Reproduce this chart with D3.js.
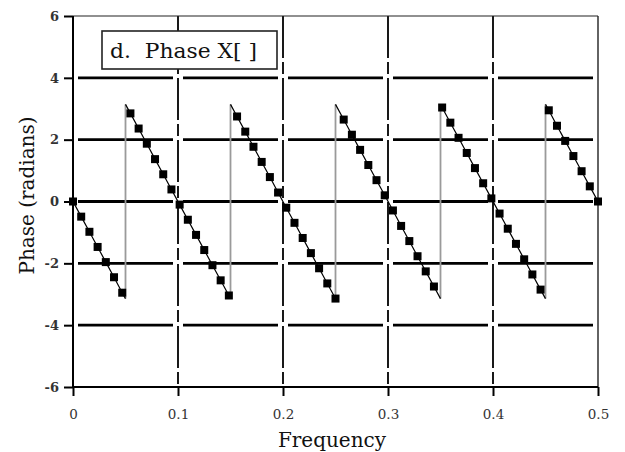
<!DOCTYPE html>
<html><head><meta charset="utf-8">
<script src="https://cdn.jsdelivr.net/npm/d3@7"></script>
<style>body{margin:0;background:#fff}svg{display:block}</style>
</head><body>
<svg id="chart" width="625" height="452"></svg>
<script>
// Frequencies (k/128, k=0..64) and phase values
const freqIndex = d3.range(0, 65);
const frequency = freqIndex.map(k => k / 128);
const phase = [
  0.00, -0.49, -0.98, -1.47, -1.96, -2.45, -2.95,
  2.85, 2.36, 1.87, 1.37, 0.88, 0.39, -0.10, -0.59, -1.08, -1.57, -2.06, -2.55, -3.04,
  2.75, 2.26, 1.77, 1.28, 0.79, 0.29, -0.20, -0.69, -1.18, -1.67, -2.16, -2.65, -3.14,
  2.65, 2.16, 1.67, 1.18, 0.69, 0.20, -0.29, -0.79, -1.28, -1.77, -2.26, -2.75,
  3.04, 2.55, 2.06, 1.57, 1.08, 0.59, 0.10, -0.39, -0.88, -1.37, -1.87, -2.36, -2.85,
  2.95, 2.45, 1.96, 1.47, 0.98, 0.49, 0.00
];
// Frequencies where the phase wraps from -pi to +pi
const wrapFreqs = [0.05, 0.15, 0.25, 0.35, 0.45];
const xTicks = [0, 0.1, 0.2, 0.3, 0.4, 0.5];
const yTicks = [-6, -4, -2, 0, 2, 4, 6];
const xGrid = [0.1, 0.2, 0.3, 0.4];
const yGrid = [-4, -2, 0, 2, 4];
const legendText = "d.  Phase X[ ]";
const xLabel = "Frequency";
const yLabel = "Phase (radians)";

const svg = d3.select("#chart");
const L = 73, R = 598, T = 16, B = 387;
const x = d3.scaleLinear().domain([0, 0.5]).range([L, R]);
const y = d3.scaleLinear().domain([-6, 6]).range([B, T]);
const serif = "'DejaVu Serif', 'Liberation Serif', serif";

// horizontal grid lines (thick, with gaps at the vertical grid lines)
const step = x(0.1) - x(0);
svg.append("g").selectAll("line").data(yGrid).join("line")
  .attr("x1", L + 5).attr("x2", R - 5)
  .attr("y1", d => y(d)).attr("y2", d => y(d))
  .attr("stroke", "#000").attr("stroke-width", 2.8)
  .attr("stroke-dasharray", `${step - 10},10`);

// vertical grid lines (dash-dot style)
svg.append("g").selectAll("line").data(xGrid).join("line")
  .attr("x1", d => x(d)).attr("x2", d => x(d))
  .attr("y1", T).attr("y2", B)
  .attr("stroke", "#000").attr("stroke-width", 1.8)
  .attr("stroke-dasharray", "42,4,12,4");

// frame
svg.append("line").attr("x1", L).attr("x2", R).attr("y1", T).attr("y2", T)
  .attr("stroke", "#222").attr("stroke-width", 1.2);
svg.append("line").attr("x1", R).attr("x2", R).attr("y1", T).attr("y2", B)
  .attr("stroke", "#222").attr("stroke-width", 1.4);
svg.append("line").attr("x1", L).attr("x2", L).attr("y1", T).attr("y2", B)
  .attr("stroke", "#000").attr("stroke-width", 2);
svg.append("line").attr("x1", L).attr("x2", R).attr("y1", B).attr("y2", B)
  .attr("stroke", "#000").attr("stroke-width", 2);

// axes
const xAxis = svg.append("g").attr("transform", `translate(0,${B})`)
  .call(d3.axisBottom(x).tickValues(xTicks).tickSize(9).tickPadding(13)
    .tickFormat(d => d === 0 ? "0" : d3.format(".1f")(d)));
xAxis.select(".domain").remove();
xAxis.selectAll("line").attr("stroke", "#000").attr("stroke-width", 2);
xAxis.selectAll("text").attr("font-family", serif).attr("font-size", 13.5)
  .attr("fill", "#333");

const yAxis = svg.append("g").attr("transform", `translate(${L},0)`)
  .call(d3.axisLeft(y).tickValues(yTicks).tickSize(9).tickPadding(5)
    .tickFormat(d => String(d)));
yAxis.select(".domain").remove();
yAxis.selectAll("line").attr("stroke", "#000").attr("stroke-width", 2);
yAxis.selectAll("text").attr("font-family", serif).attr("font-size", 13)
  .attr("font-weight", "bold").attr("fill", "#333");

// wrap transitions (gray vertical lines)
svg.append("g").selectAll("line").data(wrapFreqs).join("line")
  .attr("x1", d => x(d)).attr("x2", d => x(d))
  .attr("y1", y(-Math.PI)).attr("y2", y(Math.PI))
  .attr("stroke", "#9a9a9a").attr("stroke-width", 1.8);

// continuous segments between wraps
const pts = frequency.map((f, i) => ({f, p: phase[i]}));
const bounds = [0, ...wrapFreqs, 0.5];
const segs = [];
for (let s = 0; s < bounds.length - 1; s++) {
  const seg = pts.filter(d => (s === 0 ? d.f >= bounds[s] : d.f > bounds[s]) && d.f <= bounds[s + 1]);
  if (s > 0) seg.unshift({f: bounds[s], p: Math.PI});
  if (s < bounds.length - 2) seg.push({f: bounds[s + 1], p: -Math.PI});
  segs.push(seg);
}
const line = d3.line().x(d => x(d.f)).y(d => y(d.p));
svg.append("g").selectAll("path").data(segs).join("path")
  .attr("d", line).attr("fill", "none").attr("stroke", "#000").attr("stroke-width", 1.2);

// square markers
const sz = 8;
svg.append("g").selectAll("rect").data(pts).join("rect")
  .attr("x", d => x(d.f) - sz / 2).attr("y", d => y(d.p) - sz / 2)
  .attr("width", sz).attr("height", sz).attr("fill", "#000");

// legend box
const lg = svg.append("g");
lg.append("rect").attr("x", 102).attr("y", 31).attr("width", 175).attr("height", 38)
  .attr("fill", "#fff").attr("stroke", "#222").attr("stroke-width", 1.6);
lg.append("text").attr("x", 110).attr("y", 58).text(legendText)
  .attr("font-family", serif).attr("font-size", 21).attr("fill", "#111")
  .attr("textLength", 147).attr("lengthAdjust", "spacingAndGlyphs")
  .style("white-space", "pre");

// axis titles
svg.append("text").attr("x", 332).attr("y", 447).attr("text-anchor", "middle")
  .attr("font-family", serif).attr("font-size", 20).attr("fill", "#111").text(xLabel);
svg.append("text").attr("transform", `translate(34,${(T + B) / 2 - 6}) rotate(-90)`)
  .attr("text-anchor", "middle")
  .attr("font-family", serif).attr("font-size", 20).attr("fill", "#111").text(yLabel);
</script>
</body></html>
